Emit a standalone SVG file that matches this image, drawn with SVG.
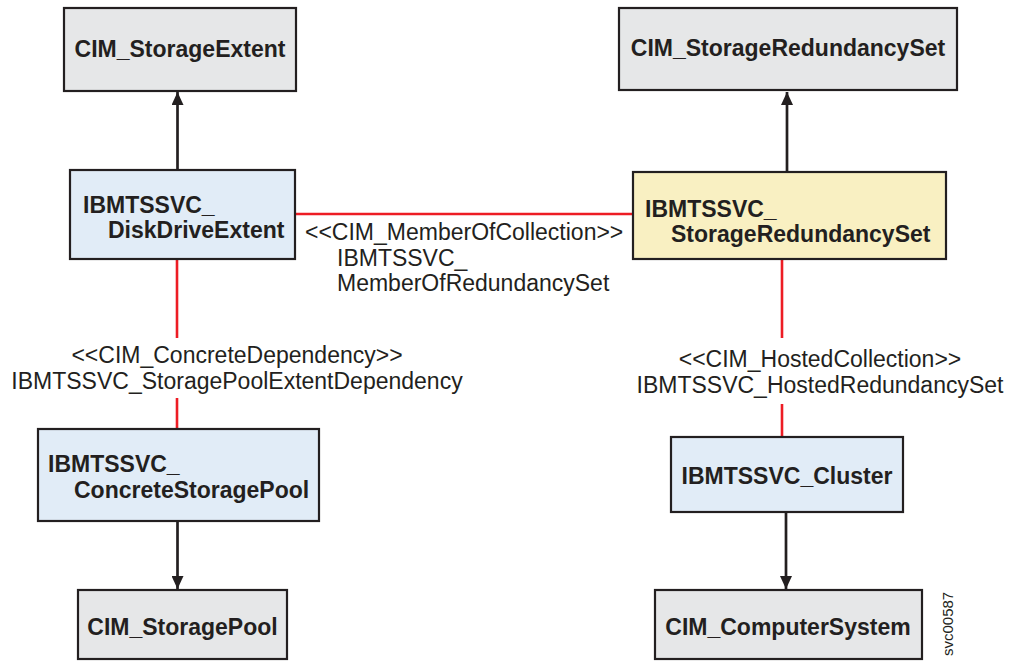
<svg xmlns="http://www.w3.org/2000/svg" width="1010" height="662" viewBox="0 0 1010 662">
<style>
.box{stroke:#231f20;stroke-width:2.2}
.gray{fill:#e6e7e8}
.blue{fill:#e1ecf7}
.yellow{fill:#f9f0c2}
.b{font-family:"Liberation Sans",Arial,sans-serif;font-weight:bold;font-size:23px;fill:#231f20}
.r{font-family:"Liberation Sans",Arial,sans-serif;font-size:23px;fill:#231f20}
.red{stroke:#ed1c24;stroke-width:2.6;fill:none}
.blk{stroke:#231f20;stroke-width:2.7;fill:none}
</style>
<defs>
<marker id="ah" viewBox="0 0 13 12" refX="13" refY="6" markerWidth="13" markerHeight="12" markerUnits="userSpaceOnUse" orient="auto">
<path d="M0,0 L13,6 L0,12 Z" fill="#231f20"/>
</marker>
</defs>
<rect width="1010" height="662" fill="#ffffff"/>
<g id="connectors">
<line class="blk" x1="177.5" y1="170" x2="177.5" y2="92" marker-end="url(#ah)"/>
<line class="blk" x1="787" y1="172" x2="787" y2="92" marker-end="url(#ah)"/>
<line class="blk" x1="177.5" y1="521" x2="177.5" y2="589" marker-end="url(#ah)"/>
<line class="blk" x1="786" y1="512" x2="786" y2="589" marker-end="url(#ah)"/>
<line class="red" x1="295" y1="214" x2="633" y2="214"/>
<line class="red" x1="177" y1="259" x2="177" y2="338"/>
<line class="red" x1="177" y1="398" x2="177" y2="429"/>
<line class="red" x1="782" y1="259" x2="782" y2="338"/>
<line class="red" x1="782" y1="404" x2="782" y2="437"/>
<text class="r" x="305" y="240">&lt;&lt;CIM_MemberOfCollection&gt;&gt;</text>
<text class="r" x="337" y="266">IBMTSSVC_</text>
<text class="r" x="337" y="291">MemberOfRedundancySet</text>
<text class="r" x="237" y="363" text-anchor="middle">&lt;&lt;CIM_ConcreteDependency&gt;&gt;</text>
<text class="r" x="237" y="389" text-anchor="middle">IBMTSSVC_StoragePoolExtentDependency</text>
<text class="r" x="820" y="367" text-anchor="middle">&lt;&lt;CIM_HostedCollection&gt;&gt;</text>
<text class="r" x="820" y="393" text-anchor="middle">IBMTSSVC_HostedRedundancySet</text>
</g>
<g id="cim_storageextent">
<rect class="box gray" x="64" y="8" width="232" height="83"/>
<text class="b" x="180" y="57" text-anchor="middle">CIM_StorageExtent</text>
</g>
<g id="cim_storageredundancyset">
<rect class="box gray" x="619" y="8" width="338" height="82"/>
<text class="b" x="788" y="56" text-anchor="middle">CIM_StorageRedundancySet</text>
</g>
<g id="ibmtssvc_diskdriveextent">
<rect class="box blue" x="70" y="170" width="225" height="89"/>
<text class="b" x="83" y="213">IBMTSSVC_</text>
<text class="b" x="108" y="238">DiskDriveExtent</text>
</g>
<g id="ibmtssvc_storageredundancyset">
<rect class="box yellow" x="633" y="172" width="313" height="87"/>
<text class="b" x="645" y="217">IBMTSSVC_</text>
<text class="b" x="671" y="242">StorageRedundancySet</text>
</g>
<g id="ibmtssvc_concretestoragepool">
<rect class="box blue" x="38" y="429" width="281" height="92"/>
<text class="b" x="48" y="472">IBMTSSVC_</text>
<text class="b" x="74" y="498">ConcreteStoragePool</text>
</g>
<g id="ibmtssvc_cluster">
<rect class="box blue" x="671" y="437" width="232" height="75"/>
<text class="b" x="787" y="484" text-anchor="middle">IBMTSSVC_Cluster</text>
</g>
<g id="cim_storagepool">
<rect class="box gray" x="78" y="590" width="209" height="69"/>
<text class="b" x="182.5" y="635" text-anchor="middle">CIM_StoragePool</text>
</g>
<g id="cim_computersystem">
<rect class="box gray" x="655" y="590" width="267" height="69"/>
<text class="b" x="788" y="635" text-anchor="middle">CIM_ComputerSystem</text>
</g>
<text transform="translate(953,656) rotate(-90)" font-family="'Liberation Sans',Arial,sans-serif" font-size="15" fill="#231f20">svc00587</text>
</svg>
